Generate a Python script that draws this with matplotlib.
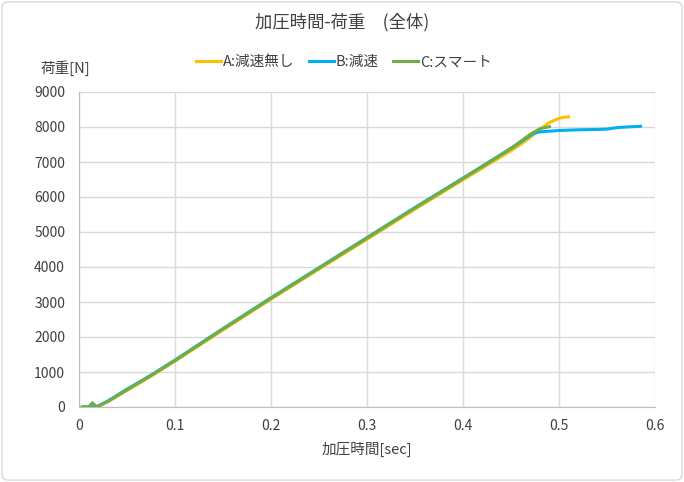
import matplotlib
matplotlib.use("Agg")
import matplotlib.pyplot as plt
from matplotlib.patches import FancyBboxPatch

plt.rcParams['font.family'] = ['Noto Sans CJK JP', 'DejaVu Sans']

# A: 減速無し
a_time = [0.005, 0.015, 0.02, 0.03, 0.05, 0.075, 0.1, 0.15, 0.2, 0.25, 0.3, 0.35,
          0.4, 0.43, 0.45, 0.46, 0.47, 0.48, 0.49, 0.50, 0.505, 0.51]
a_load = [0, 0, 20, 150, 470, 880, 1310, 2200, 3080, 3940, 4790, 5650,
          6490, 6990, 7320, 7500, 7700, 7930, 8130, 8250, 8280, 8290]

# B: 減速
b_time = [0.005, 0.015, 0.02, 0.03, 0.05, 0.075, 0.1, 0.15, 0.2, 0.25, 0.3, 0.35,
          0.4, 0.43, 0.45, 0.46, 0.47, 0.475, 0.48, 0.49, 0.5, 0.52, 0.54, 0.55,
          0.56, 0.57, 0.585]
b_load = [0, 0, 30, 170, 510, 910, 1340, 2240, 3120, 3980, 4840, 5700,
          6540, 7050, 7390, 7570, 7760, 7830, 7860, 7880, 7900, 7920, 7930, 7940,
          7980, 8000, 8020]

# C: スマート
c_time = [0.003, 0.01, 0.014, 0.018, 0.02, 0.03, 0.05, 0.075, 0.1, 0.15, 0.2, 0.25,
          0.3, 0.35, 0.4, 0.43, 0.45, 0.46, 0.47, 0.48, 0.49]
c_load = [0, 0, 120, 10, 20, 160, 490, 900, 1330, 2230, 3110, 3970,
          4830, 5690, 6530, 7040, 7390, 7590, 7790, 7950, 8010]

x_ticks = [0, 0.1, 0.2, 0.3, 0.4, 0.5, 0.6]
y_ticks = [0, 1000, 2000, 3000, 4000, 5000, 6000, 7000, 8000, 9000]

fig = plt.figure(figsize=(6.84, 4.82), dpi=100)
ax = fig.add_axes([79 / 684, 1 - 407 / 482, (655 - 79) / 684, (407 - 92) / 482])

ax.plot(a_time, a_load, color="#FFC000", lw=2.2, label="A:減速無し")
ax.plot(b_time, b_load, color="#00B0F0", lw=2.2, label="B:減速")
ax.plot(c_time, c_load, color="#70AD47", lw=2.2, label="C:スマート")

ax.set_xlim(0, 0.6)
ax.set_ylim(0, 9000)
ax.set_xticks(x_ticks)
ax.set_xticklabels([f"{t:g}" for t in x_ticks])
ax.set_yticks(y_ticks)
ax.grid(True, color="#d9d9d9", lw=1)
ax.set_axisbelow(True)
for s in ["top", "right"]:
    ax.spines[s].set_visible(False)
for s in ["left", "bottom"]:
    ax.spines[s].set_color("#bfbfbf")
ax.tick_params(length=0, labelsize=10, colors="#404040")
ax.tick_params(axis="y", pad=10)
ax.tick_params(axis="x", pad=9)

ax.set_xlabel("加圧時間[sec]", fontsize=10.5, color="#404040", labelpad=6)
fig.text(65 / 684, 1 - 68 / 482, "荷重[N]", fontsize=10.5, color="#404040",
         ha="center", va="center")
fig.text(0.5, 1 - 22 / 482, "加圧時間-荷重\u3000(全体)", fontsize=12.5,
         color="#404040", ha="center", va="center")

fig.legend(loc="center", bbox_to_anchor=(344 / 684, 1 - 62 / 482), ncol=3,
           frameon=False, fontsize=10.5, handlelength=1.7, handletextpad=0.15,
           columnspacing=1.0, labelcolor="#404040")

fig.patches.append(FancyBboxPatch((0.003, 0.004), 0.994, 0.992,
                                  boxstyle="round,pad=0,rounding_size=0.01",
                                  transform=fig.transFigure, fill=False,
                                  edgecolor="#d9d9d9", lw=1))

fig.savefig("out.png", dpi=100, facecolor="white")
